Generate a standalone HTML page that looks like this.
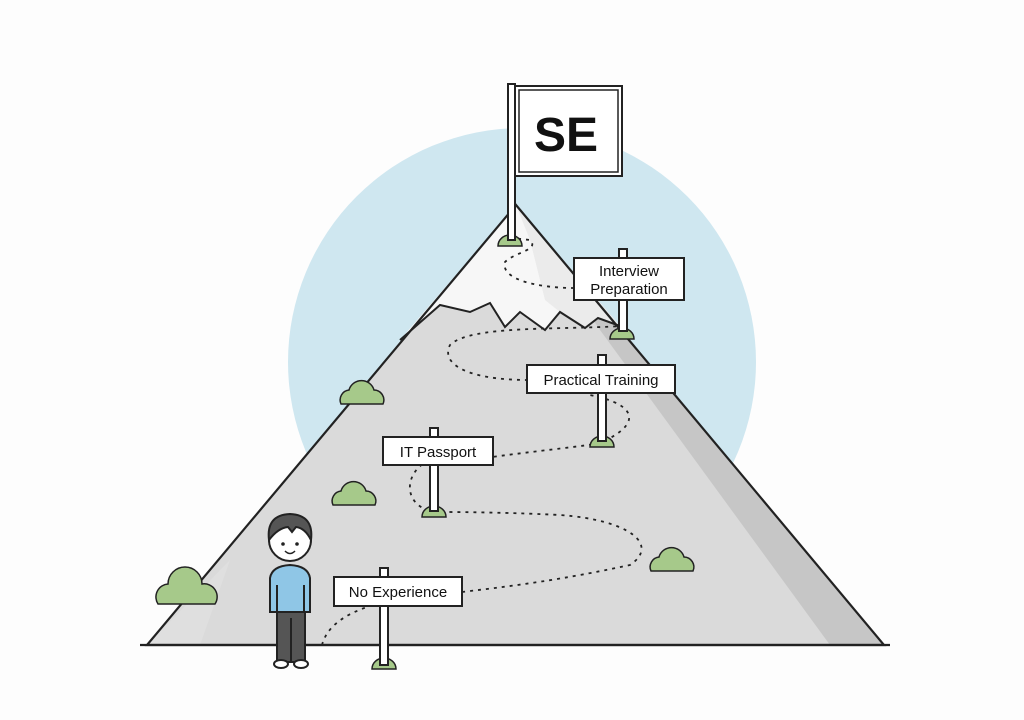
<!DOCTYPE html>
<html><head><style>body{margin:0;background:#fff}svg{display:block}</style></head><body>
<svg width="1024" height="720" viewBox="0 0 1024 720" xmlns="http://www.w3.org/2000/svg" font-family="Liberation Sans, sans-serif">
<rect width="1024" height="720" fill="#fdfdfd"/>
<circle cx="522" cy="362" r="234" fill="#cfe7f0"/>
<!-- mountain -->
<polygon points="147,645 516,205 884,645" fill="#dadada"/>
<polygon points="516,205 884,645 830,645 600,330" fill="#c6c6c6"/>
<polygon points="147,645 230,560 200,645" fill="#e3e3e3" opacity="0.6"/>
<!-- snow -->
<polygon points="516,205 620,326 598,318 585,328 560,312 545,330 520,312 505,327 490,303 470,312 440,305 400,340" fill="#f7f7f7"/>
<polygon points="516,205 620,326 598,318 585,328 560,312 545,300 530,240" fill="#ebebeb"/>
<polyline points="400,340 440,305 470,312 490,303 505,327 520,312 545,330 560,312 585,328 598,318 620,326" fill="none" stroke="#222" stroke-width="2"/>
<polygon points="147,645 516,205 884,645" fill="none" stroke="#222" stroke-width="2.2"/>
<line x1="140" y1="645" x2="890" y2="645" stroke="#222" stroke-width="2.2"/>
<!-- dotted path -->
<path d="M322,645 C330,615 370,605 400,598 M462,592 C520,585 560,580 630,565 C660,545 630,520 560,515 C500,512 450,512 434,512 C400,505 405,470 430,460 M470,460 C540,450 600,445 602,442 C640,425 640,405 590,395 M528,380 C470,380 440,365 450,345 C470,325 560,330 622,326 M574,288 C540,288 500,280 505,262 C515,252 540,250 530,240 L512,238" fill="none" stroke="#222" stroke-width="1.8" stroke-dasharray="3,5"/>
<!-- mounds -->
<g fill="#a6c98a" stroke="#222" stroke-width="1.5">
<path d="M498,246 a12,11 0 0 1 24,0 z"/>
<path d="M610,339 a12,11 0 0 1 24,0 z"/>
<path d="M590,447 a12,11 0 0 1 24,0 z"/>
<path d="M422,517 a12,11 0 0 1 24,0 z"/>
<path d="M372,669 a12,11 0 0 1 24,0 z"/>
</g>
<!-- bushes -->
<g fill="#a6c98a" stroke="#222" stroke-width="1.5">
<path d="M341,404 a10,10 0 0 1 8,-14 a13,13 0 0 1 25,0 a10,10 0 0 1 9,14 z"/>
<path d="M333,505 a10,10 0 0 1 8,-14 a13,13 0 0 1 25,0 a10,10 0 0 1 9,14 z"/>
<path d="M158,604 a13,13 0 0 1 10,-20 a17,17 0 0 1 34,0 a13,13 0 0 1 13,20 z"/>
<path d="M651,571 a10,10 0 0 1 8,-14 a13,13 0 0 1 25,0 a10,10 0 0 1 9,14 z"/>
</g>
<!-- flag -->
<rect x="508" y="84" width="7" height="156" fill="#fff" stroke="#222" stroke-width="2"/>
<rect x="515" y="86" width="107" height="90" fill="#fff" stroke="#222" stroke-width="2"/>
<rect x="519" y="90" width="99" height="82" fill="none" stroke="#222" stroke-width="1.5"/>
<text x="566" y="151" font-size="48" font-weight="bold" text-anchor="middle" fill="#111">SE</text>
<!-- signs -->
<g fill="#fff" stroke="#222" stroke-width="2">
<rect x="619" y="249" width="8" height="82"/>
<rect x="574" y="258" width="110" height="42"/>
<rect x="598" y="355" width="8" height="86"/>
<rect x="527" y="365" width="148" height="28"/>
<rect x="430" y="428" width="8" height="83"/>
<rect x="383" y="437" width="110" height="28"/>
<rect x="380" y="568" width="8" height="97"/>
<rect x="334" y="577" width="128" height="29"/>
</g>
<g font-size="15" fill="#111" text-anchor="middle">
<text x="629" y="276">Interview</text>
<text x="629" y="294">Preparation</text>
<text x="601" y="385">Practical Training</text>
<text x="438" y="457">IT Passport</text>
<text x="398" y="597">No Experience</text>
</g>
<!-- person -->
<g stroke="#222" stroke-width="2">
<rect x="277" y="610" width="28" height="52" fill="#555"/>
<line x1="291" y1="618" x2="291" y2="662"/>
<ellipse cx="281" cy="664" rx="7" ry="4" fill="#fff"/>
<ellipse cx="301" cy="664" rx="7" ry="4" fill="#fff"/>
<path d="M270,612 L270,578 Q272,566 290,565 Q308,566 310,578 L310,612 Z" fill="#8fc6e6"/>
<line x1="277" y1="585" x2="277" y2="612"/>
<line x1="304" y1="585" x2="304" y2="612"/>
<circle cx="290" cy="540" r="21" fill="#fff"/>
<path d="M269,540 Q266,515 290,514 Q314,515 311,540 Q305,528 296,527 L292,532 L288,527 Q278,528 269,540 Z" fill="#555"/>
</g>
<circle cx="283" cy="544" r="1.8" fill="#222"/><circle cx="297" cy="544" r="1.8" fill="#222"/>
<path d="M285,551 Q290,556 295,551" fill="none" stroke="#222" stroke-width="1.5"/>
</svg>
</body></html>
